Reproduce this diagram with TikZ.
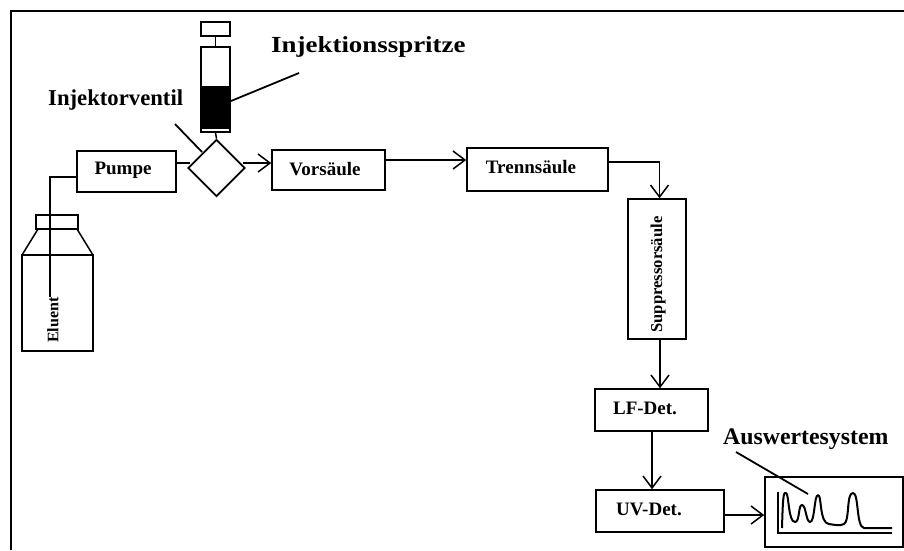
\documentclass[tikz,border=0pt]{standalone}
\usepackage{fontspec}
\setmainfont{Liberation Serif}
\usetikzlibrary{arrows.meta,shapes.geometric}
\tikzset{
 box/.style={draw,line width=1.5pt,inner sep=0pt},
 txt/.style={font=\fontsize{19}{19}\selectfont\bfseries,inner sep=0pt},
 wire/.style={line width=1.5pt},
 flow/.style={line width=1.5pt,-{Straight Barb[length=12pt,width=18pt,line width=1.5pt]}},
 lab/.style={font=\fontsize{23}{23}\selectfont\bfseries,inner sep=0pt},
 lead/.style={line width=1.8pt}
}
\begin{document}
\begin{tikzpicture}[x=1pt,y=-1pt]
\useasboundingbox (0,0) rectangle (904,550);
\fill[white] (0,0) rectangle (904,550);
\draw[line width=2.2pt] (11,550) -- (11,11) -- (904,11);
% boxes
\node[box,minimum width=99pt,minimum height=41pt] (pumpe) at (126.5,171.5) {};
\node[txt] (tpumpe) at (123,170) {Pumpe};
\node[box,minimum width=113pt,minimum height=40pt] (vor) at (328.5,170) {};
\node[txt] (tvor) at (325,169) {Vorsäule};
\node[box,minimum width=141pt,minimum height=43pt] (trenn) at (537.5,169.5) {};
\node[txt] (ttrenn) at (531,167) {Trennsäule};
\node[box,minimum width=58pt,minimum height=140pt] (supp) at (657,269) {};
\node[txt,font=\fontsize{16.6}{17}\selectfont\bfseries,rotate=90] (tsupp) at (658,274.5) {Suppressorsäule};
\node[box,minimum width=113pt,minimum height=42pt] (lf) at (651.5,410) {};
\node[txt] (tlf) at (645,408) {LF-Det.};
\node[box,minimum width=128pt,minimum height=42pt] (uv) at (660,511) {};
\node[txt] (tuv) at (649,509) {UV-Det.};
\node[box,minimum width=138pt,minimum height=70pt] (aus) at (834,512) {};
\node[draw,line width=1.8pt,diamond,aspect=1,minimum width=57pt,minimum height=57pt,inner sep=0pt] (valve) at (216.5,168) {};
% bottle
\coordinate (b1) at (22,255);
\coordinate (b2) at (93,255);
\coordinate (b3) at (22,351);
\coordinate (b4) at (93,351);
\draw[wire] (b1) -- (b3) -- (b4) -- (b2) -- cycle;
\draw[wire] (b1) -- (38,229) -- (77,229) -- (b2);
\node[box,minimum width=42pt,minimum height=14pt] (cap) at (57,222) {};
\node[txt,font=\fontsize{16}{16}\selectfont\bfseries,rotate=90] (eluent) at (53,320) {Eluent};
\coordinate (bend) at (50,177);
\coordinate (wireend) at (50,297);
\draw[wire] (pumpe.west|-bend) -- (bend) -- (wireend);
% syringe
\node[box,minimum width=29pt,minimum height=14pt] (plunger) at (215.5,29) {};
\node[box,minimum width=29pt,minimum height=85pt] (barrel) at (215.5,89.5) {};
\coordinate (inkA) at (201,86);
\coordinate (inkB) at (230,129);
\fill (inkA) rectangle (inkB);
\draw[wire] (plunger.south) -- (barrel.north);
\draw[wire] (barrel.south) -- (valve.north);
% connectors
\coordinate (pv) at (190,163);
\draw[wire] (pumpe.east|-pv) -- (pv);
\coordinate (vs) at (243,163);
\draw[flow] (vs) -- (vor.west|-vs);
\coordinate (vt) at (0,160);
\draw[flow] (vor.east|-vt) -- (trenn.west|-vt);
\coordinate (ts) at (659.5,162);
\draw[wire] (trenn.east|-ts) -- (ts);
\draw[flow] (ts) -- (ts|-supp.north);
\coordinate (sl) at (660,0);
\draw[flow] (sl|-supp.south) -- (sl|-lf.north);
\coordinate (lu) at (652,0);
\draw[flow] (lu|-lf.south) -- (lu|-uv.north);
\coordinate (ua) at (0,515);
\draw[flow] (uv.east|-ua) -- (aus.west|-ua);
% labels
\node[lab,anchor=west,xscale=1.17] (l1) at (271,47) {Injektionsspritze};
\node[lab,anchor=west,font=\fontsize{22.7}{23}\selectfont\bfseries] (l2) at (48,100) {Injektorventil};
\node[lab,anchor=west,font=\fontsize{23.8}{24}\selectfont\bfseries] (l3) at (723,439.5) {Auswertesystem};
\coordinate (a1) at (231,101); \coordinate (a2) at (299,73);
\coordinate (c1) at (175,124); \coordinate (c2) at (202,152);
\coordinate (d1) at (736,452); \coordinate (d2) at (808,494);
\draw[lead] (a1) -- (a2);
\draw[lead] (c1) -- (c2);
\draw[lead] (d1) -- (d2);
% chromatogram
\draw[line width=1.4pt] (778,492) -- (778,533) -- (892,533);
\draw[line width=2pt,line join=round] (782,528) .. controls (783,490) and (784,493) .. (786,493)
 .. controls (789,493) and (788,522) .. (795,522)
 .. controls (800,522) and (798,505) .. (802,505)
 .. controls (806,505) and (806,522) .. (810,522)
 .. controls (815,522) and (814,495) .. (818,495)
 .. controls (822,495) and (819,523) .. (829,524)
 .. controls (835,525) and (840,526) .. (844,524)
 .. controls (850,521) and (846,493) .. (853,493)
 .. controls (859,493) and (856,527) .. (864,528) -- (892,528);
\end{tikzpicture}
\end{document}
